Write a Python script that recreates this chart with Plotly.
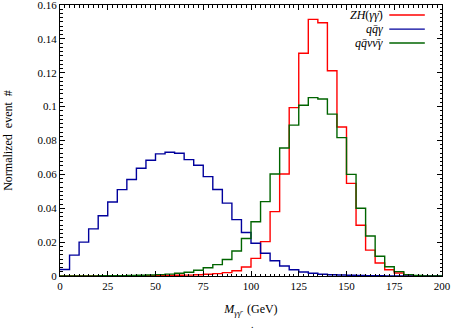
import numpy as np
import plotly.graph_objects as go

# 5 GeV bins from 0 to 200
bin_edges = np.arange(0, 205, 5)

zh_gg = [0.0001, 0.0001, 0.0001, 0.0001, 0.0001, 0.0001, 0.0001, 0.0001,
         0.0001, 0.0002, 0.0002, 0.0003, 0.0004, 0.0005, 0.0007, 0.0010,
         0.0014, 0.0020, 0.0031, 0.0053, 0.0104, 0.0203, 0.0380, 0.0602,
         0.0994, 0.1315, 0.1515, 0.1495, 0.1212, 0.0880, 0.0547, 0.0300,
         0.0153, 0.0077, 0.0037, 0.0018, 0.0005, 0.0002, 0.0001, 0.0001]

qq_gamma = [0.0038, 0.0123, 0.0200, 0.0278, 0.0356, 0.0437, 0.0510, 0.0570,
            0.0636, 0.0683, 0.0721, 0.0731, 0.0725, 0.0687, 0.0654, 0.0587,
            0.0511, 0.0430, 0.0333, 0.0257, 0.0193, 0.0134, 0.0090, 0.0059,
            0.0037, 0.0024, 0.0016, 0.0010, 0.0007, 0.0006, 0.0004, 0.0003,
            0.0002, 0.0002, 0.0001, 0.0001, 0.0001, 0.0, 0.0, 0.0]

qq_nunu_gamma = [0.0001, 0.0001, 0.0001, 0.0001, 0.0002, 0.0002, 0.0002, 0.0003,
                 0.0004, 0.0006, 0.0008, 0.0011, 0.0016, 0.0022, 0.0034, 0.0049,
                 0.0067, 0.0097, 0.0148, 0.0221, 0.0320, 0.0439, 0.0602, 0.0756,
                 0.0891, 0.1008, 0.1053, 0.1045, 0.0956, 0.0817, 0.0600, 0.0400,
                 0.0236, 0.0117, 0.0055, 0.0026, 0.0008, 0.0003, 0.0001, 0.0001]

labels = ["<i>ZH</i>(<i>γγ\u0304</i>)", "<i>qq\u0304γ</i>", "<i>qq\u0304νν\u0304γ</i>"]
colors = ["#ff0000", "#00009c", "#006400"]

y_ticks = [0, 0.02, 0.04, 0.06, 0.08, 0.1, 0.12, 0.14, 0.16]
y_ticktext = ["0", "0.02", "0.04", "0.06", "0.08", "0.1", "0.12", "0.14", "0.16"]

FONT = "Liberation Serif"

fig = go.Figure()

for vals, name, col in zip([zh_gg, qq_gamma, qq_nunu_gamma], labels, colors):
    # step line: repeat last value so the final bin closes at 200
    xs = list(bin_edges)
    ys = list(vals) + [vals[-1]]
    fig.add_trace(go.Scatter(x=xs, y=ys, mode="lines", line_shape="hv",
                             line=dict(color=col, width=1.4), name=name,
                             showlegend=False))

# hand-made legend: text right-aligned, line sample to its right
leg_y = [0.963, 0.911, 0.860]
for name, col, yy in zip(labels, colors, leg_y):
    fig.add_annotation(x=0.851, y=yy, xref="paper", yref="paper", text=name,
                       showarrow=False, xanchor="right", yanchor="middle",
                       font=dict(family=FONT, size=12, color="black"))
    fig.add_shape(type="line", xref="paper", yref="paper", x0=0.862, x1=0.955,
                  y0=yy, y1=yy, line=dict(color=col, width=1.4))

axis_common = dict(showline=True, linecolor="black", linewidth=1, mirror="allticks",
                   ticks="inside", ticklen=5, tickcolor="black", showgrid=False,
                   zeroline=False, automargin=False, ticklabeloverflow="allow",
                   tickfont=dict(family=FONT, size=11, color="black"))

fig.update_xaxes(range=[0, 200], dtick=25, tick0=0,
                 minor=dict(dtick=2.5, ticks="inside", ticklen=2.5, tickcolor="black"),
                 title=dict(text="<i>M</i><sub><i>γγ\u0304</i></sub>  (GeV)",
                            font=dict(family=FONT, size=12, color="black"), standoff=13),
                 **axis_common)
fig.update_yaxes(range=[0, 0.16001], tickvals=y_ticks, ticktext=y_ticktext,
                 minor=dict(dtick=0.0025, ticks="inside", ticklen=2.5, tickcolor="black"),
                 title=dict(text="Normalized  event  #",
                            font=dict(family=FONT, size=12, color="black"), standoff=22),
                 **axis_common)

fig.add_annotation(x=0.503, y=-0.18, xref="paper", yref="paper", text=".",
                   showarrow=False, yanchor="middle",
                   font=dict(family=FONT, size=10, color="black"))

fig.update_layout(width=454, height=333, plot_bgcolor="white", paper_bgcolor="white",
                  margin=dict(l=60, r=12, t=5, b=57), showlegend=False)

# drop the browser's default 8px body margin so the figure sits at the page corner
fig.write_html("out.html", config={"displayModeBar": False},
               post_script="document.body.style.margin='0';")
